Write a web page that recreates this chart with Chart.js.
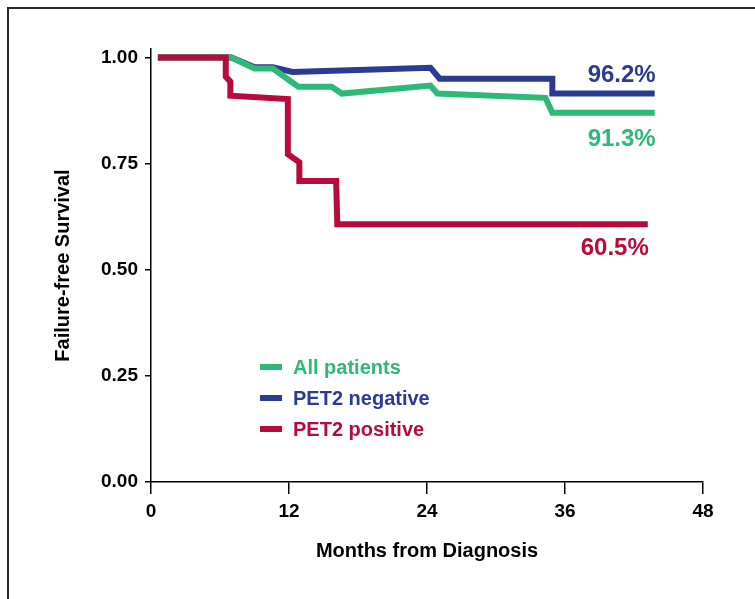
<!DOCTYPE html>
<html>
<head>
<meta charset="utf-8">
<script src="https://cdn.jsdelivr.net/npm/chart.js@4"></script>
<style>
  html, body { margin: 0; padding: 0; background: #fff; }
  #wrap { width: 755px; height: 599px; }
</style>
</head>
<body>
<div id="wrap"><canvas id="kmChart" width="755" height="599"></canvas></div>
<script>
// data (months, survival fraction)
const allMonths = [0.6, 7.0, 9.0, 10.6, 12.8, 15.7, 16.6, 24.3, 24.9, 34.3, 34.9, 43.8];
const allSurv   = [1.0, 1.0, 0.974, 0.974, 0.931, 0.931, 0.915, 0.934, 0.915, 0.905, 0.870, 0.870];

const negMonths = [0.6, 7.0, 9.0, 10.6, 12.3, 24.3, 25.1, 34.9, 34.9, 43.8];
const negSurv   = [1.0, 1.0, 0.977, 0.977, 0.966, 0.976, 0.950, 0.950, 0.915, 0.915];

const posMonths = [0.6, 6.5, 6.5, 6.9, 6.9, 11.9, 11.9, 12.9, 12.9, 16.1, 16.2, 43.2];
const posSurv   = [1.0, 1.0, 0.955, 0.943, 0.910, 0.902, 0.772, 0.753, 0.709, 0.709, 0.607, 0.607];

const xTicks = [0, 12, 24, 36, 48];
const yTicks = [0, 0.25, 0.5, 0.75, 1.0];
const endLabels = ["91.3%", "96.2%", "60.5%"];

const GREEN = "#2DB976";
const BLUE = "#2B3A92";
const RED = "#B70B3B";
const FONT = "'Liberation Sans', Arial, sans-serif";

function toPoints(xs, ys) {
  return xs.map(function (m, i) {
    return { x: m, y: ys[i] };
  });
}

// thin frame round the figure (only top and left edges are visible)
const framePlugin = {
  id: "frame",
  beforeDraw(chart) {
    const c = chart.ctx;
    c.save();
    c.strokeStyle = "#2a2a2a";
    c.lineWidth = 2;
    c.beginPath();
    c.moveTo(8, 599);
    c.lineTo(8, 8);
    c.lineTo(755, 8);
    c.stroke();
    c.restore();
  },
};

// legend inside the plot + end-of-line percentages
const annotatePlugin = {
  id: "annotate",
  afterDatasetsDraw(chart) {
    const c = chart.ctx;
    const xs = chart.scales.x;
    const ys = chart.scales.y;
    c.save();

    // legend
    const legX = 260;
    const legY = [367, 398, 429];
    c.font = "bold 20px " + FONT;
    c.textBaseline = "middle";
    c.textAlign = "left";
    chart.data.datasets.forEach(function (ds, i) {
      c.strokeStyle = ds.borderColor;
      c.lineWidth = 6;
      c.beginPath();
      c.moveTo(legX, legY[i]);
      c.lineTo(legX + 22, legY[i]);
      c.stroke();
      c.fillStyle = ds.borderColor;
      c.fillText(ds.label, legX + 33, legY[i] + 1);
    });

    // end labels
    const offsets = [27, -18, 24];
    c.font = "bold 24px " + FONT;
    c.textAlign = "right";
    chart.data.datasets.forEach(function (ds, i) {
      const last = ds.data[ds.data.length - 1];
      c.fillStyle = ds.borderColor;
      c.fillText(endLabels[i], xs.getPixelForValue(last.x) + 1, ys.getPixelForValue(last.y) + offsets[i]);
    });
    c.restore();
  },
};

const ctx = document.getElementById("kmChart");

const kmChart = new Chart(ctx, {
  type: "line",
  data: {
    datasets: [
      {
        label: "All patients",
        data: toPoints(allMonths, allSurv),
        borderColor: GREEN,
        borderWidth: 6,
        order: 1,
      },
      {
        label: "PET2 negative",
        data: toPoints(negMonths, negSurv),
        borderColor: BLUE,
        borderWidth: 6,
        order: 2,
      },
      {
        label: "PET2 positive",
        data: toPoints(posMonths, posSurv),
        borderColor: RED,
        borderWidth: 6,
        order: 0,
      },
    ],
  },
  options: {
    responsive: false,
    maintainAspectRatio: false,
    animation: false,
    elements: {
      point: { radius: 0 },
      line: { tension: 0, fill: false, borderJoinStyle: "miter", borderCapStyle: "butt" },
    },
    layout: {
      padding: { left: 40, top: 49, right: 52, bottom: 17 },
    },
    scales: {
      x: {
        type: "linear",
        min: 0,
        max: 48,
        afterFit: function (scale) {
          scale.height = 100;
        },
        afterBuildTicks: function (scale) {
          scale.ticks = xTicks.map(function (v) { return { value: v }; });
        },
        border: { display: true, color: "#000", width: 1.5 },
        grid: { drawOnChartArea: false, drawTicks: true, tickLength: 12, color: "#000", lineWidth: 1.5 },
        ticks: {
          color: "#000",
          padding: 6,
          maxRotation: 0,
          font: { family: FONT, size: 19, weight: "bold" },
        },
        title: {
          display: true,
          text: "Months from Diagnosis",
          color: "#000",
          padding: { top: 0, bottom: 19 },
          font: { family: FONT, size: 20, weight: "bold" },
        },
      },
      y: {
        type: "linear",
        min: 0,
        max: 1.02,
        afterFit: function (scale) {
          scale.width = 111;
        },
        afterBuildTicks: function (scale) {
          scale.ticks = yTicks.map(function (v) { return { value: v }; });
        },
        border: { display: true, color: "#000", width: 1.5 },
        grid: { drawOnChartArea: false, drawTicks: true, tickLength: 6, color: "#000", lineWidth: 1.5 },
        ticks: {
          color: "#000",
          padding: 7,
          font: { family: FONT, size: 19, weight: "bold" },
          callback: function (value) {
            return value.toFixed(2);
          },
        },
        title: {
          display: true,
          text: "Failure-free Survival",
          color: "#000",
          padding: { top: 11, bottom: 0 },
          font: { family: FONT, size: 20, weight: "bold" },
        },
      },
    },
    plugins: {
      legend: { display: false },
      tooltip: { enabled: false },
    },
  },
  plugins: [framePlugin, annotatePlugin],
});
</script>
</body>
</html>
